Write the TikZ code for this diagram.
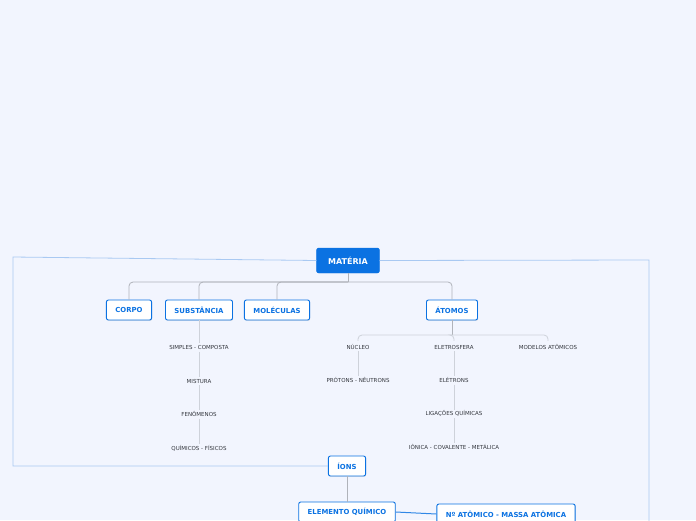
\documentclass[tikz,border=0pt]{standalone}
\usepackage{fontspec}
\setmainfont{DejaVu Sans}
\usetikzlibrary{positioning,shadows,calc}
\definecolor{bgc}{HTML}{F2F5FE}
\definecolor{mblue}{HTML}{0B72E2}
\definecolor{tline}{HTML}{B0B3BA}
\definecolor{sline}{HTML}{CED2DA}
\definecolor{bline}{HTML}{A9C9F2}
\definecolor{stxt}{HTML}{33363D}
\tikzset{
  root/.style ={draw=mblue,fill=mblue,rounded corners=2pt,text=white,
                font=\fontsize{8}{9}\selectfont\bfseries,
                minimum height=25pt,inner xsep=11.5pt},
  topic/.style={draw=mblue,fill=white,rounded corners=2pt,text=mblue,
                line width=0.9pt,font=\fontsize{6.9}{8}\selectfont\bfseries,
                minimum height=20pt,inner xsep=9pt,
                drop shadow={opacity=0.18,shadow xshift=0.6pt,shadow yshift=-0.9pt}},
  sub/.style  ={font=\fontsize{5.5}{6}\selectfont,text=stxt,
                inner sep=0pt,minimum height=8pt},
  tree/.style ={draw=tline,line width=0.8pt,rounded corners=4pt},
  subl/.style ={draw=sline,line width=0.8pt},
  bnd/.style  ={draw=bline,line width=0.8pt},
  rel/.style  ={draw=mblue!85,line width=1pt},
}

\begin{document}
\begin{tikzpicture}[x=1pt,y=-1pt,node distance=25pt]
\fill[bgc] (0,0) rectangle (696,520);
\clip (0,0) rectangle (696,520);
% main topic and first level
\node[root] (mat) at (348,260.5) {MATÉRIA};
\node[topic] (corpo) at (129,310) {CORPO};
\node[topic] (subst) at (199,310) {SUBSTÂNCIA};
\node[topic] (molec) at (277,310) {MOLÉCULAS};
\node[topic] (atom) at (452,310) {ÁTOMOS};
% substancia
\node[sub,below=23pt of subst] (simp) {SIMPLES - COMPOSTA};
\node[sub,below=of simp] (mist) {MISTURA};
\node[sub,below=of mist] (fen) {FENÔMENOS};
\node[sub,below=of fen] (quim) {QUÍMICOS - FÍSICOS};
% atomos
\node[sub] (nuc) at (358,347) {NÚCLEO};
\node[sub] (eletro) at (454,347) {ELETROSFERA};
\node[sub] (model) at (548,347) {MODELOS ATÔMICOS};
\node[sub,below=of nuc] (prot) {PRÓTONS - NÊUTRONS};
\node[sub,below=of eletro] (eltr) {ELÉTRONS};
\node[sub,below=of eltr] (lig) {LIGAÇÕES QUÍMICAS};
\node[sub,below=of lig] (ion) {IÔNICA - COVALENTE - METÁLICA};
% ions
\node[topic] (ions) at (347,466) {ÍONS};
\node[topic] (elem) at (347,512) {ELEMENTO QUÍMICO};
\node[topic] (nat) at (506,514) {Nº ATÔMICO - MASSA ATÔMICA};
\coordinate (mj) at (348,282);
\coordinate (aj) at (452,335);
\coordinate (bend) at (649,530);
% connectors
\draw[tree,rounded corners=0pt] (mat.south) -- (mj);
\foreach \c in {corpo,subst,molec,atom} \draw[tree] (mj) -| (\c.north);
\draw[tree,rounded corners=0pt] (atom.south) -- (aj);
\foreach \c in {nuc,eletro,model} \draw[subl,rounded corners=4pt] (aj) -| ($(\c.north)+(0,-2)$);
\draw[subl] (subst) -- (simp); \draw[subl] (simp) -- (mist);
\draw[subl] (mist) -- (fen); \draw[subl] (fen) -- (quim);
\draw[subl] (nuc) -- (prot);
\draw[subl] (eletro) -- (eltr); \draw[subl] (eltr) -- (lig);
\draw[subl] (lig) -- (ion);
\draw[tree] (ions) -- (elem);
\draw[rel] (elem.east) -- (nat.west);
% boundary
\draw[bnd] (mat.west) -- (13,257) -- (13,466) -- (ions.west);
\draw[bnd] (mat.east) -- (649,260) -- (bend);
\end{tikzpicture}
\end{document}
